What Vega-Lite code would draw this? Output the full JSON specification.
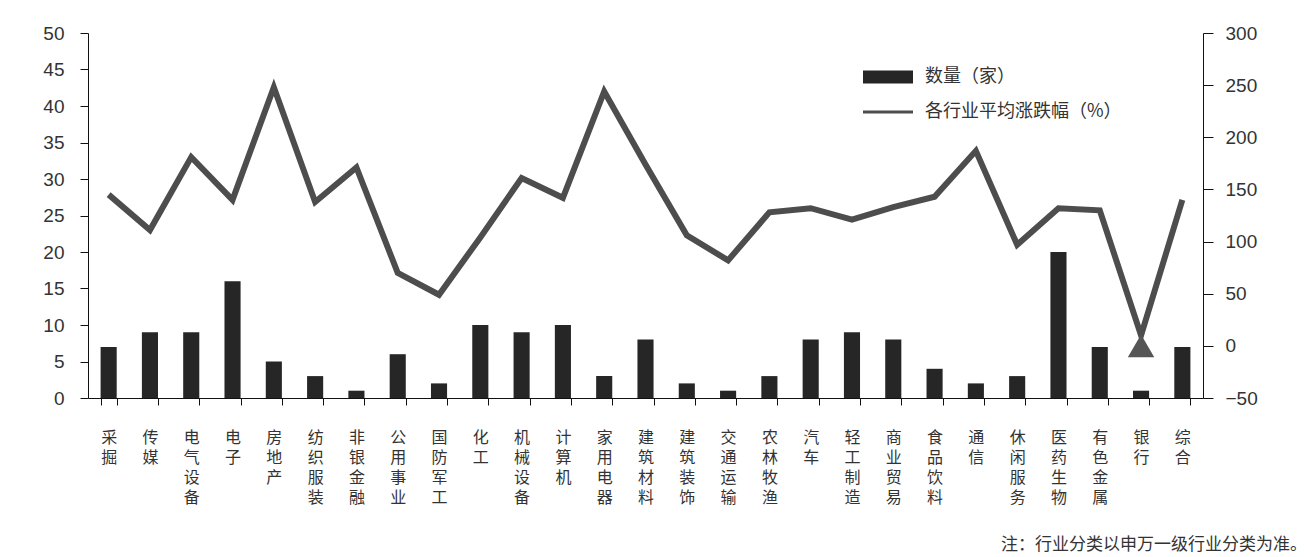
{
  "$schema": "https://vega.github.io/schema/vega-lite/v6.json",
  "autosize": {"type": "none"},
  "padding": {"left": 88, "top": 33, "right": 108, "bottom": 159},
  "width": 1115,
  "height": 365,
  "background": "white",
  "config": {
    "view": {"stroke": null},
    "font": "Liberation Sans, Noto Sans CJK SC",
    "axis": {
      "grid": false,
      "domainColor": "#111",
      "tickColor": "#111",
      "labelColor": "#333",
      "labelFont": "Liberation Sans, Noto Sans CJK SC",
      "titleFontWeight": "normal"
    }
  },
  "title": {
    "text": "注：行业分类以申万一级行业分类为准。",
    "orient": "bottom",
    "anchor": "end",
    "frame": "group",
    "fontSize": 17,
    "fontWeight": "normal",
    "color": "#333",
    "font": "Noto Sans CJK SC",
    "offset": 32,
    "dx": 104
  },
  "data": {
    "values": [
      {"行业": "采掘", "数量": 7, "涨跌幅": 145, "标记": null},
      {"行业": "传媒", "数量": 9, "涨跌幅": 111, "标记": null},
      {"行业": "电气设备", "数量": 9, "涨跌幅": 181, "标记": null},
      {"行业": "电子", "数量": 16, "涨跌幅": 140, "标记": null},
      {"行业": "房地产", "数量": 5, "涨跌幅": 248, "标记": null},
      {"行业": "纺织服装", "数量": 3, "涨跌幅": 138, "标记": null},
      {"行业": "非银金融", "数量": 1, "涨跌幅": 171, "标记": null},
      {"行业": "公用事业", "数量": 6, "涨跌幅": 70, "标记": null},
      {"行业": "国防军工", "数量": 2, "涨跌幅": 49, "标记": null},
      {"行业": "化工", "数量": 10, "涨跌幅": 104, "标记": null},
      {"行业": "机械设备", "数量": 9, "涨跌幅": 161, "标记": null},
      {"行业": "计算机", "数量": 10, "涨跌幅": 142, "标记": null},
      {"行业": "家用电器", "数量": 3, "涨跌幅": 244, "标记": null},
      {"行业": "建筑材料", "数量": 8, "涨跌幅": 174, "标记": null},
      {"行业": "建筑装饰", "数量": 2, "涨跌幅": 106, "标记": null},
      {"行业": "交通运输", "数量": 1, "涨跌幅": 82, "标记": null},
      {"行业": "农林牧渔", "数量": 3, "涨跌幅": 128, "标记": null},
      {"行业": "汽车", "数量": 8, "涨跌幅": 132, "标记": null},
      {"行业": "轻工制造", "数量": 9, "涨跌幅": 121, "标记": null},
      {"行业": "商业贸易", "数量": 8, "涨跌幅": 133, "标记": null},
      {"行业": "食品饮料", "数量": 4, "涨跌幅": 143, "标记": null},
      {"行业": "通信", "数量": 2, "涨跌幅": 187, "标记": null},
      {"行业": "休闲服务", "数量": 3, "涨跌幅": 97, "标记": null},
      {"行业": "医药生物", "数量": 20, "涨跌幅": 132, "标记": null},
      {"行业": "有色金属", "数量": 7, "涨跌幅": 130, "标记": null},
      {"行业": "银行", "数量": 1, "涨跌幅": 10, "标记": 0},
      {"行业": "综合", "数量": 7, "涨跌幅": 140, "标记": null}
    ]
  },
  "encoding": {
    "x": {
      "field": "行业",
      "type": "nominal",
      "sort": null,
      "scale": {"paddingInner": 0.61, "paddingOuter": 0.305},
      "axis": {
        "title": null,
        "labelAngle": 0,
        "labelExpr": "split(datum.label, '')",
        "labelFont": "Noto Sans CJK SC",
        "labelFontSize": 16,
        "labelLineHeight": 20,
        "labelBaseline": "top",
        "labelPadding": 24,
        "labelOverlap": false,
        "tickBand": "extent",
        "tickSize": 7,
        "labelColor": "#333"
      }
    }
  },
  "layer": [
    {
      "mark": {"type": "bar"},
      "encoding": {
        "y": {
          "field": "数量",
          "type": "quantitative",
          "scale": {"domain": [0, 50], "nice": false, "zero": true},
          "axis": {
            "title": null,
            "orient": "left",
            "values": [0, 5, 10, 15, 20, 25, 30, 35, 40, 45, 50],
            "labelFontSize": 19,
            "tickSize": 8,
            "labelPadding": 16,
            "domainColor": "#111"
          }
        },
        "color": {
          "datum": "数量（家）",
          "type": "nominal",
          "scale": {
            "domain": ["数量（家）", "各行业平均涨跌幅（%）"],
            "range": ["#262626", "#4d4d4d"]
          },
          "legend": {
            "title": null,
            "orient": "none",
            "legendX": 791,
            "legendY": 35,
            "padding": 0,
            "symbolType": "stroke",
            "symbolSize": 2500,
            "rowPadding": -25,
            "labelOffset": 28,
            "labelLimit": 400,
            "labelFontSize": 18,
            "labelFont": "Noto Sans CJK SC",
            "labelColor": "#333",
            "encode": {
              "symbols": {
                "update": {
                  "strokeWidth": {"signal": "datum.value === '数量（家）' ? 13 : 3"},
                  "stroke": {"signal": "datum.value === '数量（家）' ? '#262626' : '#4d4d4d'"},
                  "fill": {"value": "transparent"},
                  "opacity": {"value": 1}
                }
              }
            }
          }
        }
      }
    },
    {
      "layer": [
        {
          "mark": {"type": "line", "strokeWidth": 6, "strokeJoin": "miter"},
          "encoding": {
            "y": {
              "field": "涨跌幅",
              "type": "quantitative",
              "scale": {"domain": [-50, 300], "nice": false, "zero": false},
              "axis": {
                "title": null,
                "orient": "right",
                "values": [-50, 0, 50, 100, 150, 200, 250, 300],
                "labelFontSize": 19,
                "tickSize": 10,
                "labelPadding": 12,
                "domainColor": "#111"
              }
            },
            "color": {"datum": "各行业平均涨跌幅（%）", "type": "nominal"}
          }
        },
        {
          "mark": {"type": "point", "shape": "triangle-up", "filled": true, "size": 700, "color": "#555555", "opacity": 1},
          "encoding": {
            "y": {
              "field": "标记",
              "type": "quantitative",
              "scale": {"domain": [-50, 300], "nice": false, "zero": false}
            }
          }
        }
      ]
    }
  ],
  "resolve": {"scale": {"y": "independent"}}
}
